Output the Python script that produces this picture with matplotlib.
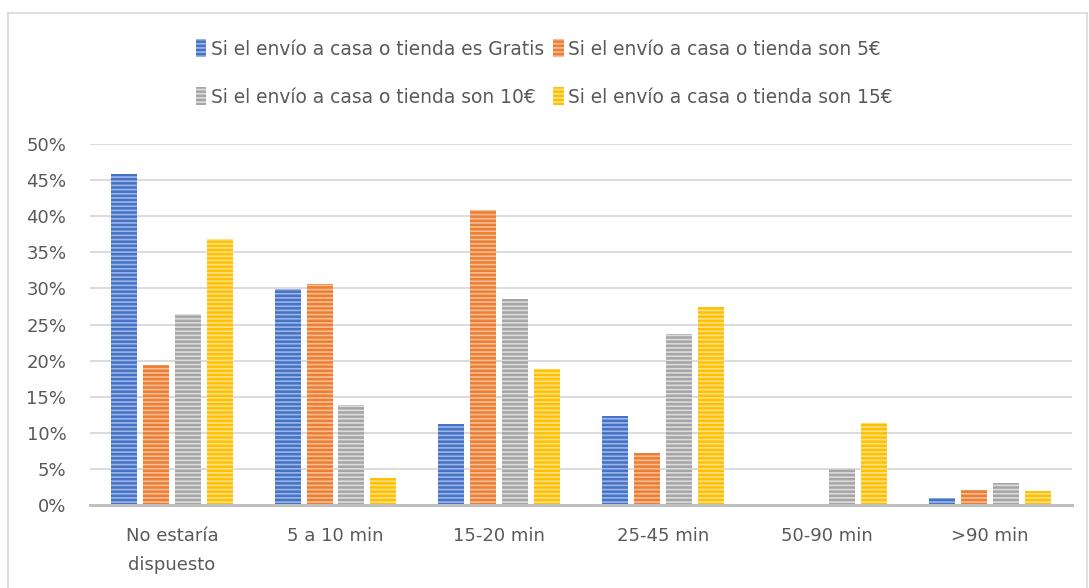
import matplotlib
matplotlib.use("Agg")
import matplotlib.pyplot as plt
import numpy as np
from matplotlib.lines import Line2D

# Datos
categorias = ["No estaría\ndispuesto", "5 a 10 min", "15-20 min", "25-45 min", "50-90 min", ">90 min"]
series = [
    "Si el envío a casa o tienda es Gratis",
    "Si el envío a casa o tienda son 5€",
    "Si el envío a casa o tienda son 10€",
    "Si el envío a casa o tienda son 15€",
]
gratis = [45.8, 29.9, 11.2, 12.3, 0.0, 1.0]
cinco = [19.4, 30.6, 40.8, 7.2, 0.0, 2.1]
diez = [26.5, 13.8, 28.5, 23.7, 5.0, 3.0]
quince = [36.8, 3.8, 18.9, 27.4, 11.4, 1.9]

colores = ["#4472C4", "#ED7D31", "#A5A5A5", "#FFC000"]
rayas = ["#9DB5E6", "#F6BE98", "#DCDCDC", "#FFE08A"]

plt.rcParams["font.family"] = ["DejaVu Sans"]
plt.rcParams["hatch.linewidth"] = 1.2

W, H = 1089, 588
fig = plt.figure(figsize=(W / 100, H / 100), dpi=100)
ax = fig.add_axes([90 / W, 1 - 505 / H, (1072 - 90) / W, (505 - 144) / H])

x = np.arange(len(categorias))
ancho = 0.159
paso = 0.195
valores = [gratis, cinco, diez, quince]

handles = []
for i, (vals, col, ray) in enumerate(zip(valores, colores, rayas)):
    pos = x + (i - 1.5) * paso
    ax.bar(pos, vals, width=ancho, color=col, edgecolor=ray, linewidth=0,
           hatch="----", zorder=3)
    handles.append(plt.Rectangle((0, 0), 1, 1, facecolor=col, edgecolor=ray,
                                 linewidth=0, hatch="----"))

ax.set_xlim(-0.5, len(categorias) - 0.5)
ax.set_ylim(0, 50)
ax.set_yticks(np.arange(0, 51, 5))
ax.set_yticklabels([f"{v}%" for v in range(0, 51, 5)])
ax.set_xticks(x)
ax.set_xticklabels(categorias, linespacing=1.75)

ax.grid(axis="y", color="#D9D9D9", linewidth=1.3, zorder=0)
for s in ["top", "right", "left"]:
    ax.spines[s].set_visible(False)
ax.spines["bottom"].set_color("#BFBFBF")
ax.spines["bottom"].set_linewidth(2.2)
ax.spines["bottom"].set_zorder(4)
ax.tick_params(axis="both", length=0, colors="#595959", labelsize=13)
ax.tick_params(axis="y", pad=17)
ax.tick_params(axis="x", pad=16)

# orden por filas como en la leyenda original
orden = [0, 2, 1, 3]
fig.legend([handles[i] for i in orden], [series[i] for i in orden],
           loc="center", bbox_to_anchor=(0.5, 1 - 73 / H),
           ncol=2, frameon=False, fontsize=13.4, labelcolor="#595959",
           handlelength=0.55, handleheight=1.1, handletextpad=0.25,
           columnspacing=0.5, labelspacing=1.55)

# Borde del area del grafico
borde = "#D9D9D9"
fig.add_artist(Line2D([8 / W, 8 / W], [0, 1 - 13 / H], transform=fig.transFigure, color=borde, lw=1.2))
fig.add_artist(Line2D([8 / W, 1087 / W], [1 - 13 / H, 1 - 13 / H], transform=fig.transFigure, color=borde, lw=1.2))
fig.add_artist(Line2D([1087 / W, 1087 / W], [0, 1 - 13 / H], transform=fig.transFigure, color=borde, lw=1.2))

fig.savefig("out.png", dpi=100)
